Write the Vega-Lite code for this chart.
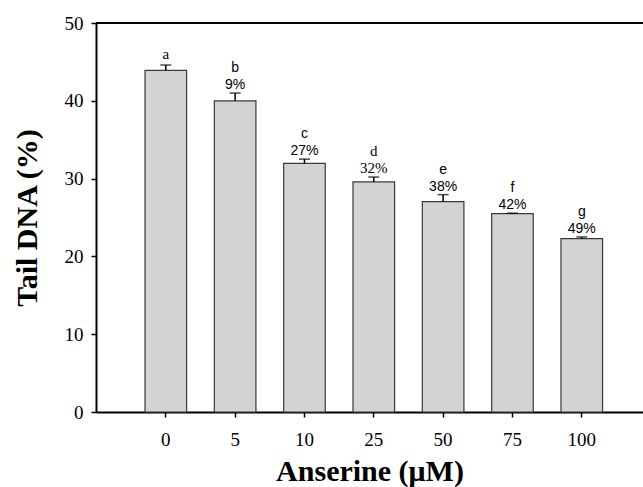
{
  "$schema": "https://vega.github.io/schema/vega-lite/v6.json",
  "width": 547,
  "height": 389,
  "autosize": {"type": "none"},
  "padding": {"left": 96, "top": 23, "right": 0, "bottom": 75},
  "background": "white",
  "config": {
    "view": {"stroke": null},
    "axis": {
      "domainColor": "black",
      "domainWidth": 2,
      "tickColor": "black",
      "tickWidth": 1.5,
      "tickSize": 5,
      "grid": false,
      "labelColor": "black",
      "titleColor": "black"
    }
  },
  "data": {
    "values": [
      {"conc": "0", "mean": 43.9, "upper": 44.6, "lab": ["a"]},
      {"conc": "5", "mean": 40.0, "upper": 41.0, "lab": ["b", "9%"]},
      {"conc": "10", "mean": 31.96, "upper": 32.5, "lab": ["c", "27%"]},
      {"conc": "25", "mean": 29.57, "upper": 30.2, "lab": ["d", "32%"]},
      {"conc": "50", "mean": 27.04, "upper": 27.94, "lab": ["e", "38%"]},
      {"conc": "75", "mean": 25.5, "upper": 25.56, "lab": ["f", "42%"]},
      {"conc": "100", "mean": 22.29, "upper": 22.5, "lab": ["g", "49%"]}
    ]
  },
  "encoding": {
    "x": {
      "field": "conc",
      "type": "ordinal",
      "sort": null,
      "title": "Anserine (μM)",
      "scale": {"paddingInner": 0.4, "paddingOuter": 0.645, "align": 0.548},
      "axis": {
        "labelAngle": 0,
        "labelPadding": 13,
        "titlePadding": 7,
        "labelFont": "Liberation Serif",
        "labelFontSize": 19,
        "titleFont": "Liberation Serif",
        "titleFontWeight": "bold",
        "titleFontSize": 30
      }
    }
  },
  "layer": [
    {
      "mark": {"type": "bar", "fill": "#d3d3d3", "stroke": "#3a3a3a", "strokeWidth": 1.2},
      "encoding": {
        "y": {
          "field": "mean",
          "type": "quantitative",
          "title": "Tail DNA (%)",
          "scale": {"domain": [0, 50], "nice": false},
          "axis": {
            "values": [0, 10, 20, 30, 40, 50],
            "labelPadding": 8,
            "titlePadding": 22,
            "labelFont": "Liberation Serif",
            "labelFontSize": 19,
            "titleFont": "Liberation Serif",
            "titleFontWeight": "bold",
            "titleFontSize": 30
          }
        }
      }
    },
    {
      "mark": {"type": "rule", "color": "black", "strokeWidth": 1.5},
      "encoding": {
        "y": {"field": "mean", "type": "quantitative", "title": "Tail DNA (%)"},
        "y2": {"field": "upper"}
      }
    },
    {
      "mark": {"type": "tick", "orient": "horizontal", "size": 11, "thickness": 1.5, "color": "black"},
      "encoding": {
        "y": {"field": "upper", "type": "quantitative", "title": "Tail DNA (%)"}
      }
    },
    {
      "mark": {"type": "rule", "color": "black", "strokeWidth": 2},
      "encoding": {"x": null, "y": {"datum": 50, "type": "quantitative", "title": "Tail DNA (%)"}}
    },
    {
      "transform": [{"filter": {"field": "conc", "equal": "0"}}],
      "mark": {"type": "text", "baseline": "alphabetic", "dy": -6, "font": "Liberation Serif", "fontSize": 15, "color": "black"},
      "encoding": {
        "y": {"field": "upper", "type": "quantitative", "title": "Tail DNA (%)"},
        "text": {"field": "lab"}
      }
    },
    {
      "transform": [{"filter": {"field": "conc", "equal": "25"}}],
      "mark": {"type": "text", "baseline": "alphabetic", "dy": -21, "font": "Liberation Serif", "fontSize": 15, "lineHeight": 17, "color": "black"},
      "encoding": {
        "y": {"field": "upper", "type": "quantitative", "title": "Tail DNA (%)"},
        "text": {"field": "lab"}
      }
    },
    {
      "transform": [{"filter": {"not": {"field": "conc", "oneOf": ["0", "25"]}}}],
      "mark": {"type": "text", "baseline": "alphabetic", "dy": -21, "font": "Liberation Sans", "fontSize": 14, "lineHeight": 17, "color": "black"},
      "encoding": {
        "y": {"field": "upper", "type": "quantitative", "title": "Tail DNA (%)"},
        "text": {"field": "lab"}
      }
    }
  ]
}
